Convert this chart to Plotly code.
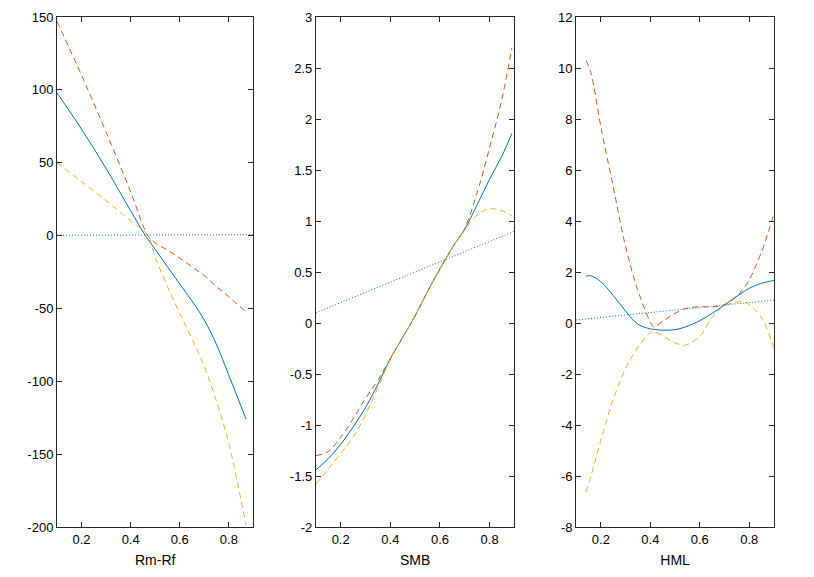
import plotly.graph_objects as go
from plotly.subplots import make_subplots

# matlab default colours
BLUE = '#0072BD'
ORANGE = '#D95319'
YELLOW = '#EDB120'
AXC = '#262626'

# ---- Rm-Rf panel
mkt_x = [0.1, 0.2, 0.3, 0.4, 0.46, 0.5, 0.55, 0.6, 0.65, 0.7, 0.75, 0.8, 0.87]
mkt_solid = [98, 73, 46, 17, 0, -9.5, -21.4, -33.3, -45, -58, -75, -96, -126]
mkt_x2 = [0.1, 0.2, 0.3, 0.4, 0.47, 0.5, 0.55, 0.6, 0.65, 0.7, 0.75, 0.8, 0.87]
mkt_upper = [147, 110, 71, 30, 0, -5, -10, -15.5, -21.5, -27.5, -35, -42, -52.5]
mkt_lower = [50, 37, 24, 10, 0, -15, -35, -53.5, -71, -90, -114, -143, -199]
mkt_lin_x = [0.1, 0.9]
mkt_lin = [0.2, 0.6]

# ---- SMB panel
smb_x = [0.1, 0.15, 0.2, 0.25, 0.3, 0.35, 0.4, 0.45, 0.5, 0.55, 0.6, 0.65,
         0.7, 0.75, 0.8, 0.85, 0.89]
smb_solid = [-1.44, -1.33, -1.19, -1.02, -0.83, -0.6, -0.35, -0.14, 0.07, 0.31,
             0.53, 0.74, 0.92, 1.16, 1.41, 1.64, 1.86]
smb_upper = [-1.3, -1.26, -1.12, -0.94, -0.74, -0.56, -0.35, -0.14, 0.07, 0.31,
             0.53, 0.74, 0.93, 1.28, 1.72, 2.2, 2.7]
smb_lower = [-1.58, -1.43, -1.28, -1.12, -0.9, -0.63, -0.36, -0.14, 0.07, 0.31,
             0.53, 0.74, 0.91, 1.06, 1.12, 1.1, 1.05]
smb_lin_x = [0.1, 0.9]
smb_lin = [0.1, 0.9]

# ---- HML panel
hml_x = [0.14, 0.16, 0.2, 0.25, 0.3, 0.35, 0.4, 0.415, 0.45, 0.5, 0.54, 0.6,
         0.65, 0.7, 0.75, 0.78, 0.8, 0.85, 0.9]
hml_solid = [1.84, 1.85, 1.62, 1.08, 0.47, -0.05, -0.23, -0.25, -0.28, -0.26,
             -0.16, 0.09, 0.38, 0.71, 1.05, 1.24, 1.36, 1.56, 1.67]
hml_upper = [10.3, 9.8, 7.7, 5.35, 3.0, 1.27, 0.05, -0.15, 0.07, 0.38, 0.56, 0.64,
             0.63, 0.72, 1.05, 1.4, 1.69, 2.8, 4.3]
hml_lower = [-6.63, -6.0, -4.6, -3.0, -1.79, -0.95, -0.38, -0.34, -0.5, -0.78,
             -0.87, -0.52, 0.22, 0.67, 0.82, 0.82, 0.72, 0.2, -1.0]
hml_lin_x = [0.1, 0.9]
hml_lin = [0.12, 0.9]

x_labels = ['Rm-Rf', 'SMB', 'HML']
x_tickvals = [0.2, 0.4, 0.6, 0.8]
x_ticktext = ['0.2', '0.4', '0.6', '0.8']
y_ranges = [[-200, 150], [-2, 3], [-8, 12]]
y_tickvals = [
    [-200, -150, -100, -50, 0, 50, 100, 150],
    [-2, -1.5, -1, -0.5, 0, 0.5, 1, 1.5, 2, 2.5, 3],
    [-8, -6, -4, -2, 0, 2, 4, 6, 8, 10, 12],
]
y_ticktext = [
    ['-200', '-150', '-100', '-50', '0', '50', '100', '150'],
    ['-2', '-1.5', '-1', '-0.5', '0', '0.5', '1', '1.5', '2', '2.5', '3'],
    ['-8', '-6', '-4', '-2', '0', '2', '4', '6', '8', '10', '12'],
]

panels = [
    (mkt_x, mkt_solid, mkt_x2, mkt_upper, mkt_lower, mkt_lin_x, mkt_lin),
    (smb_x, smb_solid, smb_x, smb_upper, smb_lower, smb_lin_x, smb_lin),
    (hml_x, hml_solid, hml_x, hml_upper, hml_lower, hml_lin_x, hml_lin),
]

fig = make_subplots(rows=1, cols=3)

for i, (x, solid, x2, upper, lower, lx, lin) in enumerate(panels):
    col = i + 1
    fig.add_trace(go.Scatter(x=x, y=solid, mode='lines', line_shape='spline',
                             line=dict(color=BLUE, width=1)), row=1, col=col)
    fig.add_trace(go.Scatter(x=x2, y=upper, mode='lines', line_shape='spline',
                             line=dict(color=ORANGE, width=1, dash='6px,4px')),
                  row=1, col=col)
    fig.add_trace(go.Scatter(x=x2, y=lower, mode='lines', line_shape='spline',
                             line=dict(color=YELLOW, width=1, dash='6px,4px')),
                  row=1, col=col)
    fig.add_trace(go.Scatter(x=lx, y=lin, mode='lines',
                             line=dict(color=BLUE, width=1, dash='1px,2px')),
                  row=1, col=col)

domains = [[0.0, 0.274], [0.361, 0.638], [0.724, 1.0]]
axis_style = dict(showline=True, linecolor=AXC, linewidth=1, mirror='ticks',
                  ticks='inside', ticklen=5, tickcolor=AXC, showgrid=False,
                  zeroline=False, automargin=False,
                  tickfont=dict(size=13, color='black'))

for i in range(3):
    col = i + 1
    fig.update_xaxes(range=[0.1, 0.9], domain=domains[i], tickvals=x_tickvals,
                     ticktext=x_ticktext,
                     title=dict(text=x_labels[i], font=dict(size=14, color='black'),
                                standoff=9),
                     **axis_style, row=1, col=col)
    fig.update_yaxes(range=y_ranges[i], tickvals=y_tickvals[i],
                     ticktext=y_ticktext[i], **axis_style, row=1, col=col)

# page body adds 8px around the plot, so the figure is a bit smaller
fig.update_layout(
    width=806, height=569,
    margin=dict(l=49, r=40, t=9, b=50),
    plot_bgcolor='white',
    paper_bgcolor='white',
    showlegend=False,
    font=dict(family='Liberation Sans, Arial, sans-serif', color='black'),
)

fig.write_html("out.html")
